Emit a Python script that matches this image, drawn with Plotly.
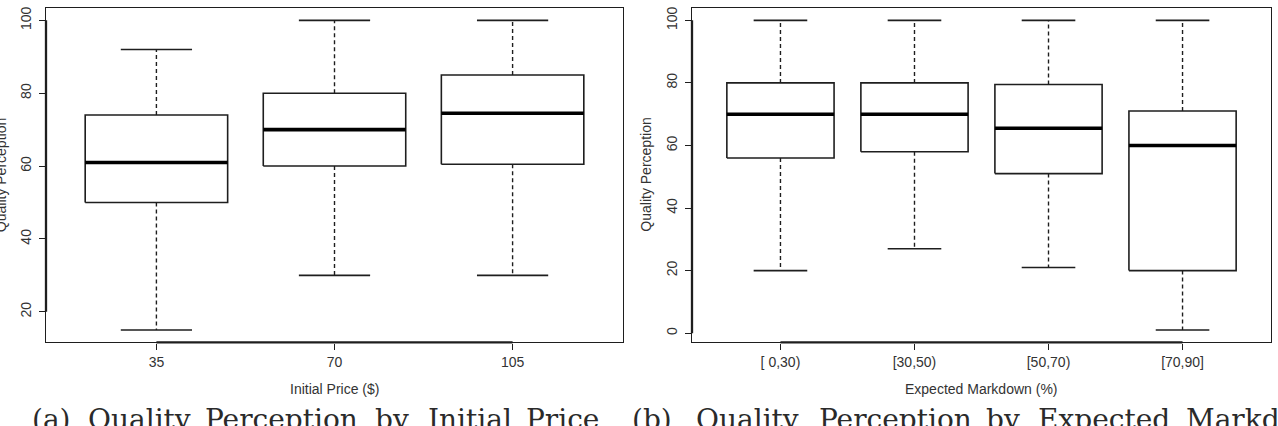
import plotly.graph_objects as go

# ---------------- data ----------------
price_labels = ["35", "70", "105"]
price_lower = [15, 30, 30]
price_q1 = [50, 60, 60.5]
price_median = [61, 70, 74.5]
price_q3 = [74, 80, 85]
price_upper = [92, 100, 100]
price_yticks = [20, 40, 60, 80, 100]

markdown_labels = ["[ 0,30)", "[30,50)", "[50,70)", "[70,90]"]
markdown_lower = [20, 27, 21, 1]
markdown_q1 = [56, 58, 51, 20]
markdown_median = [70, 70, 65.5, 60]
markdown_q3 = [80, 80, 79.5, 71]
markdown_upper = [100, 100, 100, 100]
markdown_yticks = [0, 20, 40, 60, 80, 100]

caption_a_words = ["(a)", "Quality", "Perception", "by", "Initial", "Price"]
caption_b_words = ["(b)", "Quality", "Perception", "by", "Expected", "Markdown"]

# ---------------- layout constants ----------------
W, H = 1278, 426
BOX_W = 0.8
CAP_W = 0.4
INK = "#1e1e1e"
SANS = "Liberation Sans, Arial, sans-serif"
SERIF = "DejaVu Serif, Liberation Serif, serif"


def px_x(p):
    return p / W


def px_y(p):
    return 1 - p / H


def r_range(lo, hi):
    pad = (hi - lo) * 0.04
    return [lo - pad, hi + pad]


fig = go.Figure()


def add_boxes(lower, q1, med, q3, upper, xa, ya):
    n = len(med)
    wx, wy, cx, cy, bx, by, mx, my = [], [], [], [], [], [], [], []
    for i in range(n):
        c = i + 1
        h = BOX_W / 2
        k = CAP_W / 2
        wx += [c, c, None, c, c, None]
        wy += [q3[i], upper[i], None, q1[i], lower[i], None]
        cx += [c - k, c + k, None, c - k, c + k, None]
        cy += [upper[i], upper[i], None, lower[i], lower[i], None]
        bx += [c - h, c + h, c + h, c - h, c - h, None]
        by += [q1[i], q1[i], q3[i], q3[i], q1[i], None]
        mx += [c - h, c + h, None]
        my += [med[i], med[i], None]
    common = dict(mode="lines", xaxis=xa, yaxis=ya, showlegend=False, hoverinfo="skip")
    fig.add_trace(go.Scatter(x=wx, y=wy, line=dict(color=INK, width=1.4, dash="4px,3px"), **common))
    fig.add_trace(go.Scatter(x=cx, y=cy, line=dict(color=INK, width=1.6), **common))
    fig.add_trace(go.Scatter(x=bx, y=by, line=dict(color=INK, width=1.6), **common))
    fig.add_trace(go.Scatter(x=mx, y=my, line=dict(color="#000", width=3.6), **common))


add_boxes(price_lower, price_q1, price_median, price_q3, price_upper, "x", "y")
add_boxes(markdown_lower, markdown_q1, markdown_median, markdown_q3, markdown_upper, "x2", "y2")

axis_common = dict(
    showline=True, mirror=True, linecolor=INK, linewidth=1.3,
    ticks="outside", ticklen=6, tickwidth=1.3, tickcolor=INK,
    tickfont=dict(family=SANS, size=14, color="#333"),
    showgrid=False, zeroline=False, fixedrange=True,
)

fig.update_layout(
    width=W, height=H,
    margin=dict(l=0, r=0, t=0, b=0),
    paper_bgcolor="white", plot_bgcolor="white",
    xaxis=dict(domain=[px_x(46), px_x(623)], range=r_range(0.5, len(price_labels) + 0.5),
               tickvals=list(range(1, len(price_labels) + 1)), ticktext=price_labels,
               anchor="y", ticklabelstandoff=1, **axis_common),
    yaxis=dict(domain=[px_y(342), px_y(6)],
               range=r_range(min(price_lower), max(price_upper)),
               tickvals=price_yticks, tickangle=-90, anchor="x", ticklabelstandoff=2, **axis_common),
    xaxis2=dict(domain=[px_x(692), px_x(1271)], range=r_range(0.5, len(markdown_labels) + 0.5),
                tickvals=list(range(1, len(markdown_labels) + 1)), ticktext=markdown_labels,
                anchor="y2", ticklabelstandoff=1, **axis_common),
    yaxis2=dict(domain=[px_y(342), px_y(6)],
                range=r_range(min(markdown_lower), max(markdown_upper)),
                tickvals=markdown_yticks, tickangle=-90, anchor="x2", ticklabelstandoff=2, **axis_common),
)

# thicker axis segments between first and last tick (R style axis)
for xr, yr, n, yt in [("x", "y", len(price_labels), price_yticks),
                      ("x2", "y2", len(markdown_labels), markdown_yticks)]:
    fig.add_shape(type="line", xref=xr, yref=yr + " domain", x0=1, x1=n, y0=0, y1=0,
                  line=dict(color=INK, width=2.3))
    fig.add_shape(type="line", xref=xr + " domain", yref=yr, x0=0, x1=0, y0=yt[0], y1=yt[-1],
                  line=dict(color=INK, width=2.3))

# axis titles
title_font = dict(family=SANS, size=14, color="#333")
fig.add_annotation(text="Initial Price ($)", xref="paper", yref="paper", x=px_x(334.5), y=px_y(389),
                   showarrow=False, font=title_font, xanchor="center", yanchor="middle")
fig.add_annotation(text="Expected Markdown (%)", xref="paper", yref="paper", x=px_x(981.5), y=px_y(389),
                   showarrow=False, font=title_font, xanchor="center", yanchor="middle")
fig.add_annotation(text="Quality Perception", xref="paper", yref="paper", x=px_x(1), y=px_y(174),
                   showarrow=False, font=title_font, textangle=-90, xanchor="center", yanchor="middle")
fig.add_annotation(text="Quality Perception", xref="paper", yref="paper", x=px_x(646.5), y=px_y(174),
                   showarrow=False, font=title_font, textangle=-90, xanchor="center", yanchor="middle")

# captions (cut by the bottom edge in the reference)
cap_font = dict(family=SERIF, size=28, color="#2a2a2a")
cap_a_x = [30, 86, 203, 373, 426, 524]
cap_b_x = [630, 694, 817, 984, 1036, 1184]
for words, xs in [(caption_a_words, cap_a_x), (caption_b_words, cap_b_x)]:
    for w, xp in zip(words, xs):
        fig.add_annotation(text=w, xref="paper", yref="paper", x=px_x(xp), y=px_y(401),
                           showarrow=False, font=cap_font, xanchor="left", yanchor="top")

fig.write_html("out.html")
